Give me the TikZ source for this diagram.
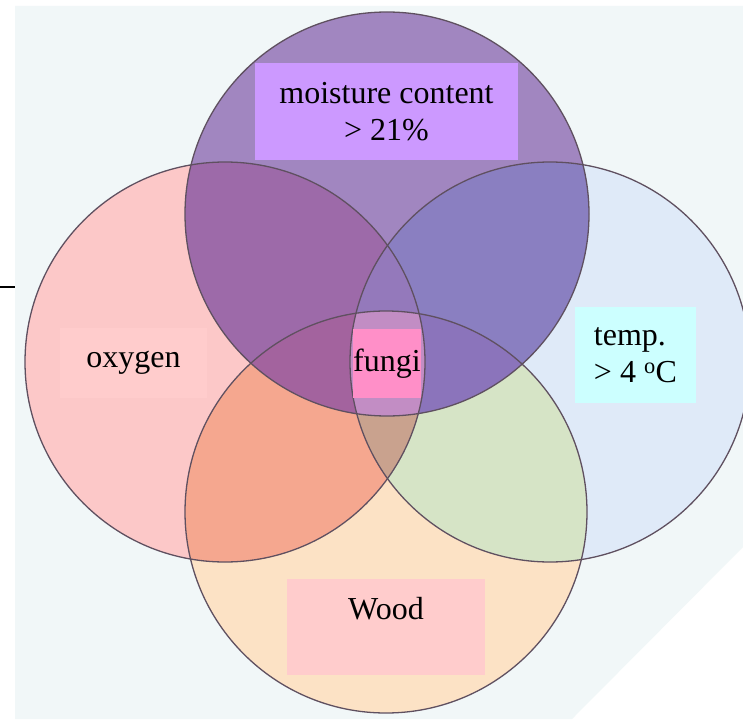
\documentclass[tikz,border=0pt]{standalone}
\usepackage{fontspec}
\setmainfont{Liberation Serif}

% the four rings
\newcommand{\oxyring}{(225,362) circle (200pt)}
\newcommand{\moistring}{(387,214) circle (202pt)}
\newcommand{\tempring}{(550,362) circle (200pt)}
\newcommand{\woodring}{(386,512) circle (201pt)}

\definecolor{paper}{HTML}{F1F7F8}
\definecolor{ringline}{HTML}{5F5060}
\definecolor{oxyc}{HTML}{FCC8C8}
\definecolor{moistc}{HTML}{A186C0}
\definecolor{tempc}{HTML}{DFEAF8}
\definecolor{woodc}{HTML}{FCE2C5}
\definecolor{oxymoist}{HTML}{9D6AA9}
\definecolor{moisttemp}{HTML}{8A7FC1}
\definecolor{oxywood}{HTML}{F5A78F}
\definecolor{tempwood}{HTML}{D6E4C6}
\definecolor{oxytemp}{HTML}{C9A28E}
\definecolor{moistwood}{HTML}{9C80B0}
\definecolor{omw}{HTML}{A3639E}
\definecolor{mtw}{HTML}{8B74BB}
\definecolor{omt}{HTML}{9479BB}
\definecolor{otw}{HTML}{C9A28E}
\definecolor{allfour}{HTML}{C28DC4}
\definecolor{oxybox}{HTML}{FFCCCC}
\definecolor{moistbox}{HTML}{CC99FF}
\definecolor{tempbox}{HTML}{CCFFFF}
\definecolor{fungibox}{HTML}{FF8FC8}
\definecolor{woodbox}{HTML}{FFCCCC}

\tikzset{
  tag/.style={rectangle,inner sep=0pt,font=\fontsize{32}{37}\selectfont},
  ring/.style={draw=ringline,line width=1.3pt}
}

\begin{document}
\begin{tikzpicture}[x=1pt,y=-1pt]
\clip (0,0) rectangle (743,719);
% Paper
\fill[white] (0,0) rectangle (743,719);
\fill[paper] (15,6) -- (743,6) -- (743,547) -- (572,719) -- (15,719) -- cycle;
\draw[black,line width=1.3pt] (0,287) -- (15,287);

% Single rings
\fill[oxyc] \oxyring;
\fill[moistc] \moistring;
\fill[tempc] \tempring;
\fill[woodc] \woodring;

% Pairs
\begin{scope} \clip \oxyring; \fill[oxymoist] \moistring; \end{scope}
\begin{scope} \clip \moistring; \fill[moisttemp] \tempring; \end{scope}
\begin{scope} \clip \oxyring; \fill[oxywood] \woodring; \end{scope}
\begin{scope} \clip \tempring; \fill[tempwood] \woodring; \end{scope}
\begin{scope} \clip \oxyring; \fill[oxytemp] \tempring; \end{scope}
\begin{scope} \clip \moistring; \fill[moistwood] \woodring; \end{scope}

% Triples
\begin{scope} \clip \oxyring; \clip \moistring; \fill[omw] \woodring; \end{scope}
\begin{scope} \clip \moistring; \clip \tempring; \fill[mtw] \woodring; \end{scope}
\begin{scope} \clip \oxyring; \clip \moistring; \fill[omt] \tempring; \end{scope}
\begin{scope} \clip \oxyring; \clip \tempring; \fill[otw] \woodring; \end{scope}

% All four
\begin{scope} \clip \oxyring; \clip \moistring; \clip \tempring; \fill[allfour] \woodring; \end{scope}

% Outlines
\draw[ring] \oxyring;
\draw[ring] \moistring;
\draw[ring] \tempring;
\draw[ring] \woodring;

% Labels
\node[tag,fill=oxybox,minimum width=147pt,minimum height=70pt] (oxygen) at (133.5,363) {oxygen};
\node[tag,fill=moistbox,minimum width=263pt,minimum height=97pt,align=center] (moisture) at (386.5,111.5) {moisture content\\> 21\%};
\node[tag,fill=tempbox,minimum width=121pt,minimum height=96pt,align=left] (temp) at (635.5,355) {temp.\\> 4 \textsuperscript{o}C};
\node[tag,fill=fungibox,minimum width=68pt,minimum height=69pt] (fungi) at (387,363.5) {fungi};
\node[tag,fill=woodbox,minimum width=198pt,text height=40pt,text depth=56pt] (wood) at (386,627) {Wood};
\end{tikzpicture}
\end{document}
